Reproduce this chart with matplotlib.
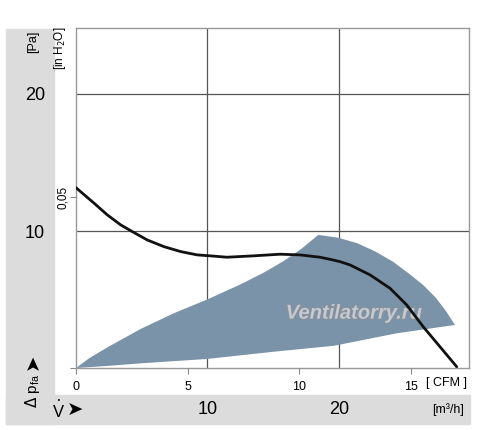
import matplotlib
matplotlib.use('Agg')
import matplotlib.pyplot as plt
import matplotlib.patheffects as pe
from matplotlib.patches import Rectangle

# fan curve (x in CFM, y in Pa)
curve_cfm = [0, 0.81, 1.40, 2.00, 2.52, 3.19, 3.94, 4.69, 5.43, 6.10,
             6.75, 7.94, 9.14, 10.03, 10.93, 11.37, 11.82, 12.27, 13.17,
             14.06, 14.81, 15.55, 16.30, 17.05]
curve_pa = [13.15, 12.02, 11.17, 10.44, 9.95, 9.34, 8.85, 8.49, 8.25, 8.17,
            8.08, 8.18, 8.30, 8.25, 8.08, 7.93, 7.76, 7.52, 6.79,
            5.82, 4.60, 3.01, 1.55, 0.09]

# shaded operating region (outline, clockwise)
region_cfm = [0, 0.6, 1.40, 2.90, 4.39, 5.88, 7.37, 8.4, 9.3, 10.1, 10.85,
              11.75, 12.6, 13.4, 14.2, 14.9, 15.55, 16.1, 16.55, 16.97,
              14.36, 11.55, 8.87, 5.88, 2.90, 1.40, 0]
region_pa = [0, 0.72, 1.5, 2.85, 4.0, 5.0, 6.1, 6.95, 7.8, 8.7, 9.71,
             9.5, 9.1, 8.5, 7.75, 6.9, 6.05, 5.15, 4.2, 3.14,
             2.53, 1.62, 1.19, 0.66, 0.34, 0.15, 0]

cfm_ticks = [0, 5, 10, 15]
m3h_ticks = [10, 20]
pa_ticks = [10, 20]
inh2o_ticks = [0.05]

CFM_PER_M3H = 1 / 1.699
PA_PER_INH2O = 249.089

W, H = 500, 430
FONT = ['Liberation Sans', 'DejaVu Sans']


def fx(x):
    return x / W


def fy(y):
    return 1 - y / H


fig = plt.figure(figsize=(5, 4.3), dpi=100)
panel = '#dcdcdc'
# grey frame: left column and bottom band
fig.patches.append(Rectangle((fx(6), fy(424)), fx(54) - fx(6), fy(29) - fy(424),
                             transform=fig.transFigure, color=panel, zorder=0))
fig.patches.append(Rectangle((fx(6), fy(424)), fx(470) - fx(6), fy(395) - fy(424),
                             transform=fig.transFigure, color=panel, zorder=0))

ax = fig.add_axes([fx(76), fy(368), fx(469) - fx(76), fy(28) - fy(368)])
ax.set_xlim(0, 17.6)
ax.set_ylim(0, 24.8)

for v in m3h_ticks:
    ax.axvline(v * CFM_PER_M3H, color='#555555', lw=0.9, zorder=1)
for v in pa_ticks:
    ax.axhline(v, color='#555555', lw=0.9, zorder=1)

ax.fill(region_cfm, region_pa, color='#7b93a9', lw=0, zorder=2)
ax.plot(curve_cfm, curve_pa, color='#111111', lw=2.0, zorder=4,
        solid_capstyle='round', solid_joinstyle='round')

ax.text(12.45, 4.0, 'Ventilatorry.ru', ha='center', va='center',
        fontsize=14.5, fontweight='bold', style='italic',
        family=FONT, color='#c9ced6', alpha=0.9, zorder=3,
        path_effects=[pe.withStroke(linewidth=1.4, foreground='#8a9098')])

for s in ax.spines.values():
    s.set_color('#999999')
    s.set_linewidth(1.0)

ax.set_xticks(cfm_ticks)
ax.set_xticklabels([str(t) for t in cfm_ticks], family=FONT, fontsize=9)
ax.tick_params(axis='x', length=4, color='#888888', pad=5)
ax.set_yticks([0] + [v * PA_PER_INH2O for v in inh2o_ticks])
ax.set_yticklabels([''] + ['0,05' for v in inh2o_ticks], rotation=90,
                   va='center', family=FONT, fontsize=8.5)
ax.tick_params(axis='y', length=4, color='#888888', pad=1)

fig.text(fx(447), fy(383), '[ CFM ]', ha='center', va='center',
         family=FONT, fontsize=9)
fig.text(fx(60), fy(48), '[in H$_2$O]', ha='center', va='center',
         rotation=90, family=FONT, fontsize=8.5)

# Pa scale in the grey column
fig.text(fx(33), fy(42), '[Pa]', ha='center', va='center', rotation=90,
         family=FONT, fontsize=9)
for v in pa_ticks:
    y = 368 - v * 13.7
    fig.text(fx(35), fy(y + 2), str(v), ha='center', va='center',
             family=FONT, fontsize=13)
fig.text(fx(33), fy(391), r'$\Delta$ p$_{\mathregular{fa}}$', ha='center',
         va='center', rotation=90, family=FONT, fontsize=11)
fig.text(fx(33), fy(362), '➤', ha='center', va='center', rotation=90,
         family='DejaVu Sans', fontsize=14)

# m3/h scale in the grey band
fig.text(fx(59), fy(410), r'$\dot{\mathregular{V}}$', ha='center', va='center',
         family=FONT, fontsize=12)
fig.text(fx(75), fy(410), '➤', ha='center', va='center',
         family='DejaVu Sans', fontsize=14)
for v in m3h_ticks:
    x = 76 + v * CFM_PER_M3H * 22.33
    fig.text(fx(x), fy(410), str(v), ha='center', va='center',
             family=FONT, fontsize=13)
fig.text(fx(448), fy(410), '[m³/h]', ha='center', va='center',
         family=FONT, fontsize=9)

fig.savefig('out.png', dpi=100)
